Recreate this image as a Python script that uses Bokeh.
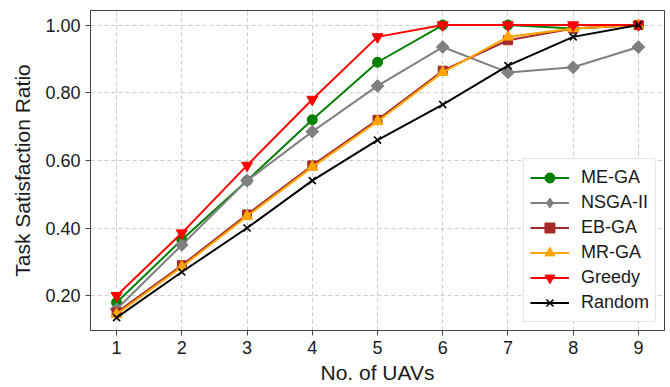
import math
from bokeh.plotting import figure
from bokeh.models import Range1d, FixedTicker, CustomJSTickFormatter
from bokeh.embed import file_html
from bokeh.resources import INLINE

uavs = [1, 2, 3, 4, 5, 6, 7, 8, 9]
me_ga = [0.18, 0.365, 0.54, 0.72, 0.89, 1.0, 1.0, 0.99, 1.0]
nsga2 = [0.16, 0.35, 0.54, 0.685, 0.82, 0.935, 0.86, 0.875, 0.935]
eb_ga = [0.15, 0.29, 0.44, 0.585, 0.72, 0.865, 0.955, 0.99, 1.0]
mr_ga = [0.145, 0.285, 0.435, 0.58, 0.715, 0.86, 0.965, 0.99, 1.0]
greedy = [0.20, 0.385, 0.585, 0.78, 0.965, 1.0, 1.0, 1.0, 1.0]
random_ = [0.135, 0.27, 0.40, 0.54, 0.66, 0.765, 0.88, 0.965, 1.0]
y_ticks = [0.2, 0.4, 0.6, 0.8, 1.0]

FONT = "Liberation Sans"

p = figure(width=670, height=387, output_backend="svg", toolbar_location=None,
           x_range=Range1d(0.6, 9.4), y_range=Range1d(0.097, 1.043),
           min_border_left=90, min_border_right=6, min_border_top=10, min_border_bottom=57)

series = [
    ("ME-GA", me_ga, "green", "circle", 10, 0),
    ("NSGA-II", nsga2, "gray", "square", 9, math.pi / 4),
    ("EB-GA", eb_ga, "brown", "square", 9, 0),
    ("MR-GA", mr_ga, "orange", "triangle", 11, 0),
    ("Greedy", greedy, "red", "inverted_triangle", 11, 0),
    ("Random", random_, "black", "x", 10, 0),
]
for name, ys, col, mk, sz, ang in series:
    p.line(uavs, ys, line_color=col, line_width=2, legend_label=name)
    if mk == "x":
        p.scatter(uavs, ys, marker=mk, size=sz, line_color=col, line_width=1.6, legend_label=name)
    elif name == "NSGA-II":
        # rotated square in the plot; a diamond (kept outside the visible range) for the legend
        p.scatter(uavs, ys, marker=mk, size=sz, angle=ang, fill_color=col, line_color=col)
        p.scatter([-100], [-100], marker="diamond", size=15, fill_color=col, line_color=col,
                  legend_label=name)
    else:
        p.scatter(uavs, ys, marker=mk, size=sz, angle=ang, fill_color=col, line_color=col, legend_label=name)

p.xaxis.ticker = FixedTicker(ticks=uavs)
p.yaxis.ticker = FixedTicker(ticks=y_ticks)
p.yaxis.formatter = CustomJSTickFormatter(code="return tick.toFixed(2);")

p.xaxis.axis_label = "No. of UAVs"
p.yaxis.axis_label = "Task Satisfaction Ratio"
for ax in (p.xaxis, p.yaxis):
    ax.axis_label_text_font = FONT
    ax.axis_label_text_font_size = "21px"
    ax.axis_label_text_font_style = "normal"
    ax.axis_label_text_color = "#1a1a1a"
    ax.major_label_text_font = FONT
    ax.major_label_text_font_size = "18px"
    ax.major_label_text_color = "#1a1a1a"
    ax.major_tick_out = 5
    ax.major_tick_in = 0
    ax.minor_tick_out = 0
    ax.minor_tick_in = 0
    ax.major_tick_line_color = "#444444"
    ax.axis_line_color = "#444444"
    ax.major_label_standoff = 5
    ax.axis_label_standoff = 8
p.xaxis.axis_label_standoff = 4

p.outline_line_color = "#444444"
p.outline_line_width = 1
p.grid.grid_line_color = "#cccccc"
p.grid.grid_line_dash = "4 3"
p.grid.grid_line_width = 1

lg = p.legend[0]
lg.location = "bottom_right"
lg.margin = 8
lg.padding = 6
lg.spacing = 0
lg.label_height = 25
lg.glyph_height = 25
lg.glyph_width = 39
lg.label_standoff = 12
lg.label_text_font = FONT
lg.label_text_font_size = "18px"
lg.label_text_color = "#1a1a1a"
lg.border_line_color = "#cccccc"
lg.border_line_width = 1
lg.background_fill_alpha = 0.85

open("out.html", "w").write(file_html(p, INLINE))
